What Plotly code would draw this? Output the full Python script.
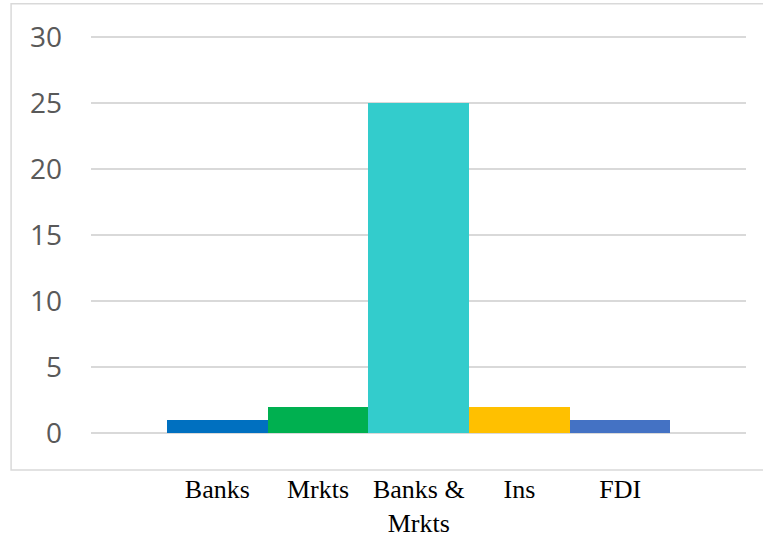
import plotly.graph_objects as go

categories = ["Banks", "Mrkts", "Banks &<br>Mrkts", "Ins", "FDI"]
values = [1, 2, 25, 2, 1]
colors = ["#0070C0", "#00B050", "#33CCCC", "#FFC000", "#4472C4"]
y_ticks = [0, 5, 10, 15, 20, 25, 30]

fig = go.Figure()
fig.add_trace(go.Bar(
    x=list(range(len(categories))),
    y=values,
    marker=dict(color=colors, line=dict(width=0)),
    width=1.0,
    showlegend=False,
))

fig.update_layout(
    width=763, height=536,
    margin=dict(l=91, r=17, t=36, b=103),
    paper_bgcolor="white",
    plot_bgcolor="white",
    bargap=0,
    xaxis=dict(
        range=[-1.255, 5.25],
        tickmode="array",
        tickvals=list(range(len(categories))),
        ticktext=categories,
        showgrid=False,
        zeroline=False,
        showline=False,
        ticks="",
        automargin=False,
        tickfont=dict(family="Liberation Serif", size=26, color="#000000"),
        ticklabelstandoff=38,
    ),
    yaxis=dict(
        range=[0, 30.08],
        tickmode="array",
        tickvals=y_ticks,
        showgrid=True,
        gridcolor="#D9D9D9",
        gridwidth=1.5,
        zeroline=True,
        zerolinecolor="#D9D9D9",
        zerolinewidth=1.5,
        showline=False,
        ticks="",
        automargin=False,
        tickfont=dict(family="Open Sans", size=28, color="#595959"),
        ticklabelstandoff=28,
    ),
    shapes=[dict(
        type="rect", xref="paper", yref="paper",
        x0=-0.122, x1=1.2, y0=-0.0934, y1=1.081,
        line=dict(color="#D9D9D9", width=1.5),
        fillcolor="rgba(0,0,0,0)", layer="below",
    )],
)

fig.write_html("out.html")
